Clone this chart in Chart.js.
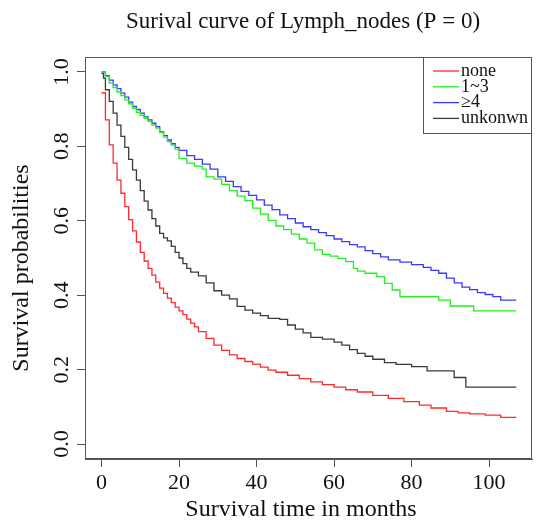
<!DOCTYPE html>
<html>
<head>
<meta charset="utf-8">
<script src="https://cdn.jsdelivr.net/npm/chart.js@4.4.1/dist/chart.umd.min.js"></script>
<style>
  html, body { margin: 0; padding: 0; background: #fff; }
</style>
</head>
<body>
<canvas id="surv" width="536" height="525"></canvas>
<script>
// groups and colours
const groups = ["none", "1~3", "≥4", "unkonwn"];
const lineColors = ["#ff2a2a", "#22ee22", "#3838ff", "#3a3a3a"];

// survival curves (months, probability)
const noneTime = [0, 1, 2, 3, 4, 5, 6, 7, 8, 9, 10, 11, 12, 13, 14, 15, 16, 17, 18, 19, 20, 21, 22, 23, 24, 25, 27, 29, 31, 33, 35, 37, 39, 41, 43, 45, 48, 51, 54, 57, 60, 63, 66, 70, 74, 78, 82, 85, 89, 92, 95, 99, 103, 107];
const noneSurv = [0.944, 0.871, 0.804, 0.755, 0.709, 0.674, 0.638, 0.603, 0.573, 0.543, 0.515, 0.492, 0.472, 0.454, 0.435, 0.419, 0.405, 0.392, 0.380, 0.368, 0.358, 0.348, 0.336, 0.325, 0.315, 0.302, 0.284, 0.266, 0.252, 0.240, 0.230, 0.222, 0.215, 0.207, 0.199, 0.193, 0.185, 0.176, 0.167, 0.160, 0.153, 0.146, 0.140, 0.131, 0.123, 0.114, 0.105, 0.097, 0.088, 0.084, 0.081, 0.078, 0.072, 0.072];

const oneThreeTime = [0, 1, 2, 3, 4, 5, 6, 7, 8, 9, 10, 11, 12, 13, 14, 15, 16, 17, 18, 19, 20, 22, 24, 26, 27, 29, 31, 33, 35, 37, 39, 41, 43, 45, 47, 49, 51, 53, 55, 57, 59, 61, 63, 65, 66, 68, 71, 73, 75, 77, 87, 90, 96, 107];
const oneThreeSurv = [1.000, 0.988, 0.970, 0.958, 0.946, 0.936, 0.925, 0.914, 0.902, 0.891, 0.883, 0.875, 0.867, 0.857, 0.849, 0.837, 0.825, 0.813, 0.803, 0.792, 0.767, 0.755, 0.747, 0.739, 0.718, 0.712, 0.698, 0.681, 0.666, 0.654, 0.634, 0.618, 0.601, 0.586, 0.576, 0.564, 0.551, 0.540, 0.522, 0.510, 0.505, 0.499, 0.490, 0.472, 0.465, 0.459, 0.450, 0.432, 0.414, 0.396, 0.387, 0.371, 0.358, 0.358];

const fourTime = [0, 1, 2, 3, 4, 5, 6, 7, 8, 9, 10, 11, 12, 13, 14, 15, 16, 17, 18, 19, 20, 22, 24, 26, 28, 30, 32, 34, 36, 38, 40, 42, 44, 46, 48, 50, 52, 54, 56, 58, 60, 62, 64, 66, 68, 70, 72, 74, 77, 80, 83, 85, 87, 89, 91, 93, 95, 97, 99, 101, 103, 107];
const fourSurv = [1.000, 0.990, 0.978, 0.965, 0.955, 0.943, 0.932, 0.919, 0.907, 0.899, 0.889, 0.879, 0.871, 0.862, 0.853, 0.839, 0.829, 0.817, 0.807, 0.797, 0.789, 0.775, 0.765, 0.752, 0.739, 0.718, 0.706, 0.692, 0.679, 0.668, 0.656, 0.642, 0.630, 0.616, 0.606, 0.594, 0.584, 0.576, 0.568, 0.560, 0.551, 0.544, 0.536, 0.530, 0.520, 0.512, 0.503, 0.495, 0.489, 0.482, 0.475, 0.467, 0.459, 0.446, 0.433, 0.422, 0.415, 0.407, 0.402, 0.396, 0.387, 0.387];

const unknownTime = [0, 0.5, 1, 2, 3, 4, 5, 6, 7, 8, 9, 10, 11, 12, 13, 14, 15, 16, 17, 18, 19, 20, 21, 22, 23, 25, 27, 29, 31, 33, 35, 37, 39, 41, 43, 46, 48, 50, 52, 54, 57, 60, 62, 64, 66, 68, 70, 73, 76, 80, 84, 91, 94, 107];
const unknownSurv = [0.996, 0.983, 0.952, 0.921, 0.889, 0.857, 0.827, 0.797, 0.765, 0.737, 0.709, 0.681, 0.653, 0.629, 0.606, 0.586, 0.566, 0.554, 0.546, 0.531, 0.515, 0.500, 0.485, 0.472, 0.462, 0.452, 0.433, 0.412, 0.400, 0.390, 0.370, 0.360, 0.352, 0.345, 0.338, 0.335, 0.320, 0.309, 0.299, 0.287, 0.282, 0.274, 0.266, 0.254, 0.244, 0.236, 0.228, 0.219, 0.214, 0.208, 0.197, 0.179, 0.153, 0.153];

const xTicks = [0, 20, 40, 60, 80, 100];
const yTicks = [0, 0.2, 0.4, 0.6, 0.8, 1.0];

const serif = "'Liberation Serif', 'DejaVu Serif', serif";

function toPoints(times, surv) {
  return times.map((t, i) => ({ x: t, y: surv[i] }));
}

const allTimes = [noneTime, oneThreeTime, fourTime, unknownTime];
const allSurv = [noneSurv, oneThreeSurv, fourSurv, unknownSurv];

const datasets = groups.map((g, i) => ({
  label: g,
  data: toPoints(allTimes[i], allSurv[i]),
  borderColor: lineColors[i],
  borderWidth: 1.3,
  stepped: true,
  pointRadius: 0,
  fill: false,
}));

// box, legend and titles, R style
const rDecor = {
  id: "rDecor",
  afterDraw(chart) {
    const { ctx, chartArea: a } = chart;
    ctx.save();
    ctx.strokeStyle = "#555";
    ctx.lineWidth = 1;
    ctx.strokeRect(a.left + 0.5, a.top + 0.5, a.right - a.left - 1, a.bottom - a.top - 1);

    // legend
    const lx = 423, ly = a.top, lw = a.right - 423, lh = 77;
    ctx.fillStyle = "#fff";
    ctx.fillRect(lx, ly, lw, lh);
    ctx.strokeRect(lx + 0.5, ly + 0.5, lw - 1, lh - 1);
    ctx.font = "18px " + serif;
    ctx.textBaseline = "middle";
    ctx.textAlign = "left";
    chart.data.datasets.forEach((ds, i) => {
      const y = ly + 14 + i * 15.8;
      ctx.strokeStyle = ds.borderColor;
      ctx.lineWidth = 1.3;
      ctx.beginPath();
      ctx.moveTo(433, y);
      ctx.lineTo(459, y);
      ctx.stroke();
      ctx.fillStyle = "#111";
      ctx.fillText(ds.label, 461, y);
    });

    // titles
    ctx.fillStyle = "#111";
    ctx.textAlign = "center";
    ctx.font = "23px " + serif;
    ctx.fillText("Surival curve of Lymph_nodes (P = 0)", 303, 22);
    ctx.font = "24px " + serif;
    ctx.fillText("Survival time in months", 301, 510);
    ctx.translate(22, 268);
    ctx.rotate(-Math.PI / 2);
    ctx.fillText("Survival probabilities", 0, 0);
    ctx.restore();
  },
};

new Chart(document.getElementById("surv"), {
  type: "line",
  data: { datasets: datasets },
  plugins: [rDecor],
  options: {
    responsive: false,
    animation: false,
    devicePixelRatio: 1,
    layout: { padding: { top: 57, right: 4, left: 0, bottom: 0 } },
    plugins: {
      legend: { display: false },
      title: { display: false },
      tooltip: { enabled: false },
    },
    scales: {
      x: {
        type: "linear",
        min: -4.27,
        max: 111.07,
        afterBuildTicks: (s) => { s.ticks = xTicks.map((v) => ({ value: v })); },
        afterFit: (s) => { s.height = 66; },
        grid: { drawOnChartArea: false, tickLength: 8, tickColor: "#555" },
        border: { display: true, color: "#555" },
        ticks: {
          font: { family: serif, size: 22 },
          color: "#111",
          padding: 3,
          maxRotation: 0,
        },
      },
      y: {
        type: "linear",
        min: -0.04,
        max: 1.04,
        afterBuildTicks: (s) => { s.ticks = yTicks.map((v) => ({ value: v })); },
        afterFit: (s) => { s.width = 85; },
        grid: { drawOnChartArea: false, tickLength: 8, tickColor: "#555" },
        border: { display: true, color: "#555" },
        ticks: {
          font: { family: serif, size: 22 },
          color: "#111",
          padding: 1,
          minRotation: 90,
          maxRotation: 90,
          crossAlign: "center",
          callback: (v) => Number(v).toFixed(1),
        },
      },
    },
  },
});
</script>
</body>
</html>
